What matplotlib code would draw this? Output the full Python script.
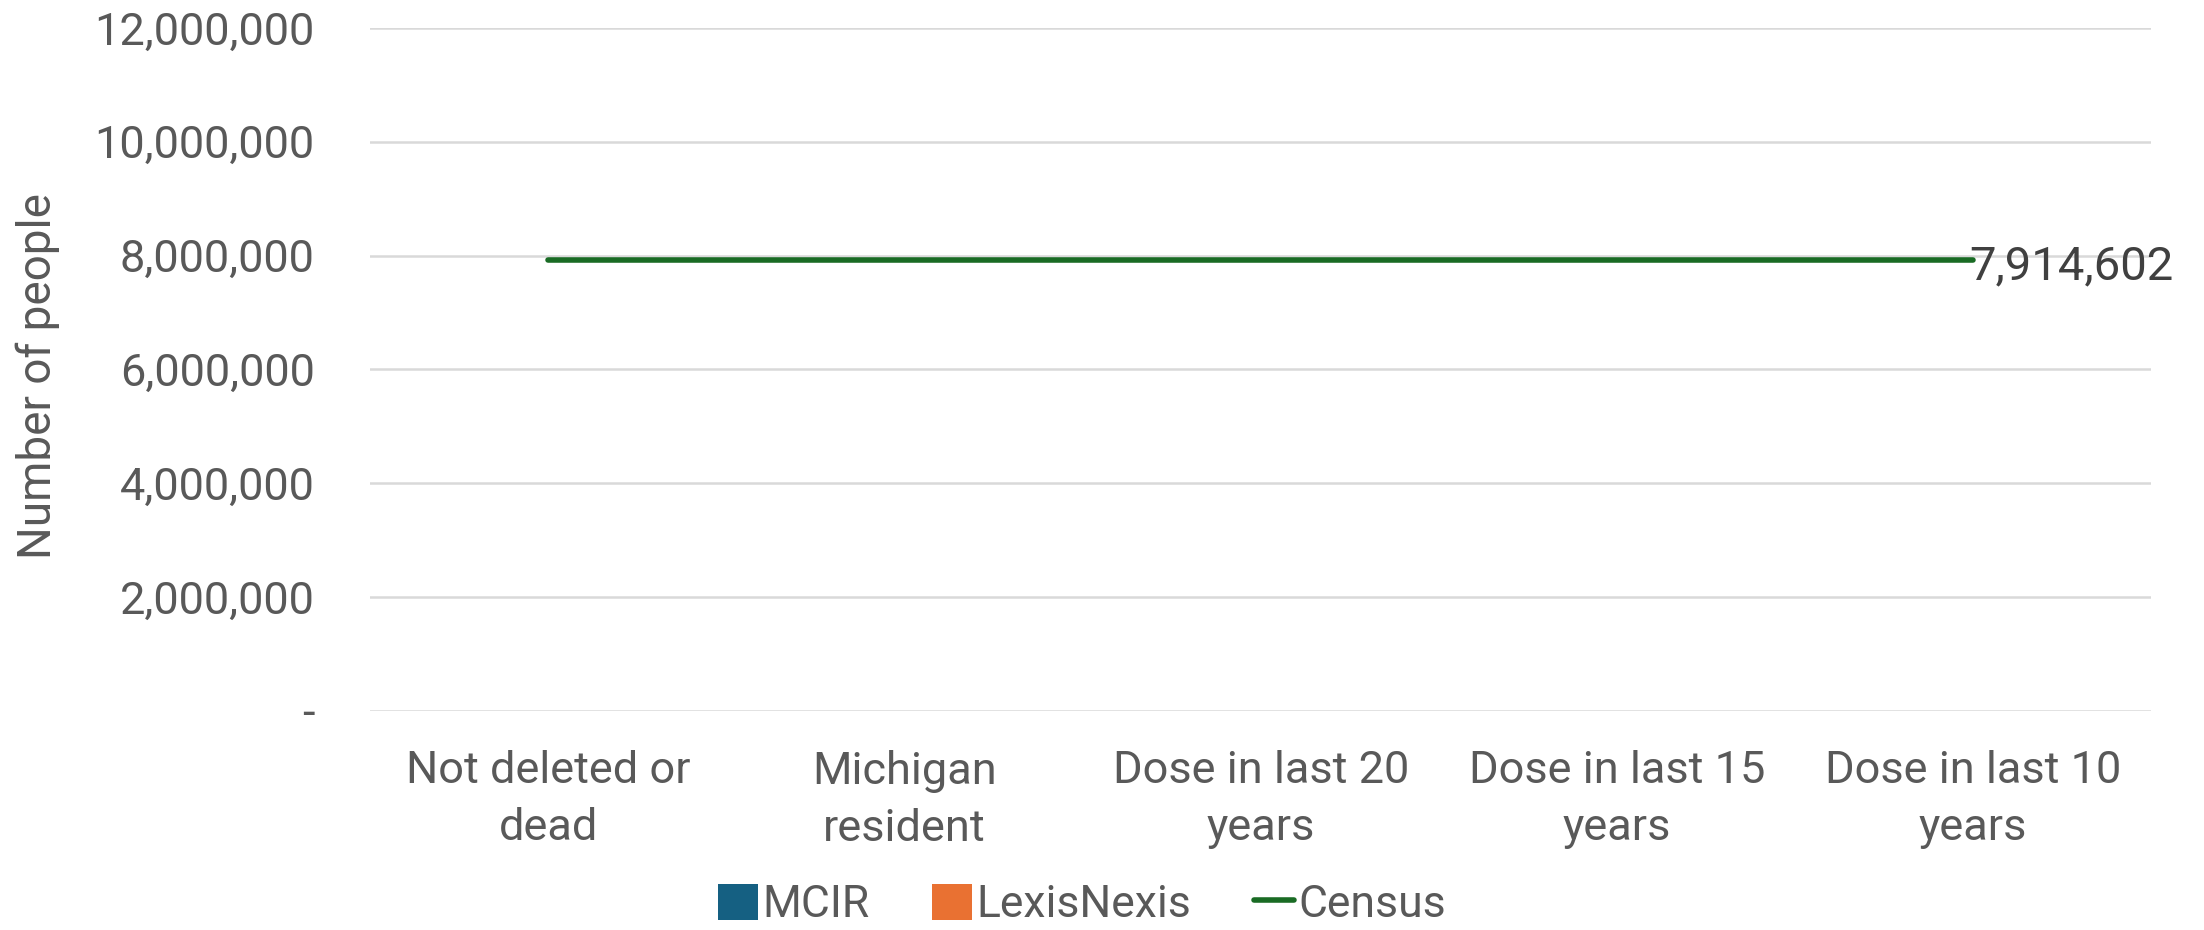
import matplotlib.pyplot as plt
import matplotlib as mpl
import numpy as np

categories = ["Not deleted or\ndead", "Michigan\nresident", "Dose in last 20\nyears",
              "Dose in last 15\nyears", "Dose in last 10\nyears"]
mcir = [0, 0, 0, 0, 0]
lexisnexis = [0, 0, 0, 0, 0]
census = [7914602, 7914602, 7914602, 7914602, 7914602]

plt.rcParams['font.family'] = ['Roboto', 'DejaVu Sans']
text_color = "#595959"

fig = plt.figure(figsize=(22.04, 9.30), dpi=100)
ax = fig.add_axes([0.168, 0.2355, 0.808, 0.7345])

x = np.arange(len(categories))
w = 0.3
b1 = ax.bar(x - w / 2, mcir, w, color="#156082", label="MCIR")
b2 = ax.bar(x + w / 2, lexisnexis, w, color="#E97132", label="LexisNexis")
l1, = ax.plot(x, census, color="#196B24", lw=4, solid_capstyle="round", label="Census")
ax.text(x[-1] - 0.01, census[-1] - 100000, f"{census[-1]:,}", fontsize=34, color="#404040",
        va="center", ha="left")

ax.set_xlim(-0.5, len(categories) - 0.5)
ax.set_ylim(0, 12000000)
yt = np.arange(0, 12000001, 2000000)
ax.set_yticks(yt)
ax.set_yticklabels(["-"] + [f"{v:,}" for v in yt[1:]], fontsize=32.5, color=text_color)
ax.set_xticks(x)
ax.set_xticklabels(categories, fontsize=32.5, color=text_color, linespacing=1.45)
ax.tick_params(axis="y", length=0, pad=40)
ax.tick_params(axis="x", length=0, pad=28)
ax.grid(axis="y", color="#d9d9d9", lw=1.8)
ax.set_axisbelow(True)
for s in ax.spines.values():
    s.set_visible(False)
ax.set_ylabel("Number of people", fontsize=33, color=text_color)
ax.yaxis.set_label_coords(-0.174, 0.49)

fig.legend([b1, b2, l1], ["MCIR", "LexisNexis", "Census"], loc="center",
           bbox_to_anchor=(0.491, 0.027), ncol=3, frameon=False, fontsize=32,
           labelcolor=text_color, handlelength=0.9, handleheight=0.9,
           handletextpad=0.1, columnspacing=1.4, borderpad=0.1)

plt.savefig("out.png", dpi=100)
